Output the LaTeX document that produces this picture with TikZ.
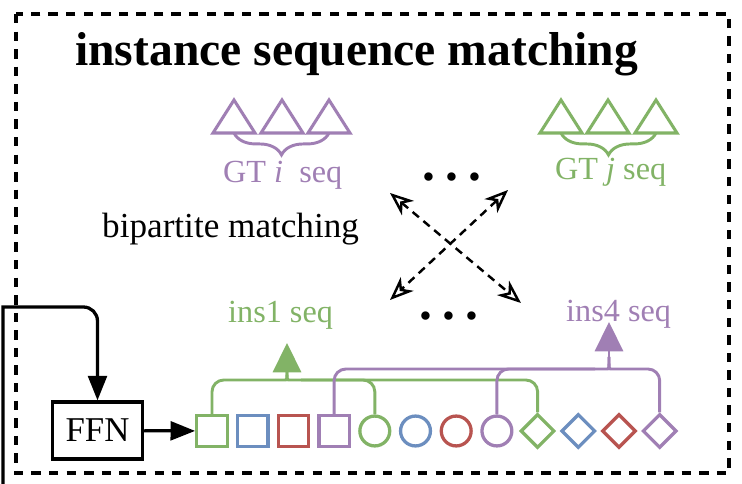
\documentclass[tikz,border=0pt]{standalone}
\usepackage{fontspec}
\setmainfont{Liberation Serif}
\usepackage{tikz}
\usetikzlibrary{arrows.meta,decorations.pathreplacing,shapes.geometric,calc}
\definecolor{insgreen}{HTML}{82B366}
\definecolor{insblue}{HTML}{6C8EBF}
\definecolor{insred}{HTML}{B85450}
\definecolor{inspurple}{HTML}{A07FB4}

\begin{document}
\begin{tikzpicture}[x=0.03cm,y=-0.03cm,
    tok/.style={draw=#1,line width=2.8pt,inner sep=0pt},
    sq/.style={tok=#1,rectangle,minimum size=26pt},
    ci/.style={tok=#1,circle,minimum size=25.5pt},
    dm/.style={tok=#1,diamond,minimum width=29pt,minimum height=29pt},
    link/.style={draw=#1,line width=2.5pt},
    uparrow/.style={link=#1,-{Triangle[length=25pt,width=24pt]}},
    tri/.style={draw=#1,line width=2.6pt,line join=miter},
    brc/.style={draw=#1,line width=2.5pt,decorate,decoration={brace,mirror,amplitude=18.7pt}},
    txt/.style={inner sep=0pt,anchor=base west,font=\fontsize{30}{36}\selectfont},
    seqlbl/.style={txt,text=#1,font=\fontsize{27.5}{33}\selectfont},
    dots/.style={inner sep=0pt,anchor=base,font=\fontsize{44}{48}\selectfont\bfseries},
    flow/.style={line width=2.8pt,-{Triangle[length=21pt,width=16pt]}},
    match/.style={line width=2.1pt,dash pattern=on 7pt off 5pt,
      {Stealth[open,length=20pt,width=16pt,inset=6pt]}-{Stealth[open,length=20pt,width=16pt,inset=6pt]}},
    frame/.style={line width=2.8pt,dash pattern=on 8pt off 7pt}]
  \useasboundingbox (0,0) rectangle (742,484);
  \draw[frame] (16,14) rectangle (729,473);
  \node[txt,font=\fontsize{40.6}{48}\selectfont\bfseries] (title) at (75,66) {instance sequence matching};

  % ground truth sequences
  \foreach \cx in {234,282,329}
    \draw[tri=inspurple] ({\cx-21},133) -- (\cx,100) -- ({\cx+21},133) -- cycle;
  \foreach \cx in {561,608,656}
    \draw[tri=insgreen] ({\cx-21},133) -- (\cx,100) -- ({\cx+21},133) -- cycle;
  \draw[brc=inspurple] (234,133) -- (329,133);
  \draw[brc=insgreen] (561,133) -- (656,133);
  \node[seqlbl=inspurple] (gti) at (223,183) {GT \textit{i}~ seq};
  \node[seqlbl=insgreen] (gtj) at (555,180) {GT \textit{j} seq};
  \node[dots] (dtop) at (452,181) {.\kern9pt.\kern9pt.};
  \node[txt] (bip) at (102,238) {bipartite matching};

  % matching
  \coordinate (m1) at (390,193);
  \coordinate (m2) at (521,303);
  \coordinate (m3) at (508,190);
  \coordinate (m4) at (390,300);
  \draw[match] (m1) -- (m2);
  \draw[match] (m3) -- (m4);
  \node[dots] (dbot) at (449,320) {.\kern9pt.\kern9pt.};

  % queries
  \node[draw,line width=2.8pt,minimum width=77pt,minimum height=48.5pt,
    font=\fontsize{29.7}{36}\selectfont] (ffn) at (97.5,430.5) {FFN};
  \foreach \col [count=\k] in {insgreen,insblue,insred,inspurple}{
    \node[sq=\col] (sq\k) at ({212+40.7*(\k-1)},431) {};
    \node[ci=\col] (ci\k) at ({212+40.7*(\k+3)},431) {};
    \node[dm=\col] (dm\k) at ({212+40.7*(\k+7)},431) {};
  }
  \coordinate (feat) at (3,484);
  \draw[flow] (feat) -- (3,307) [rounded corners=12pt] -- (97.5,307) -- (ffn.north);
  \draw[flow] (ffn) -- (sq1);

  % instance 1
  \coordinate (gmid) at (287,380);
  \coordinate (gtip) at (287,343);
  \draw[link=insgreen] (sq1.north) [rounded corners=10pt] |- ($(gmid)+(-14,0)$)
    [sharp corners] .. controls (gmid) .. ($(gmid)+(0,-12)$);
  \draw[link=insgreen] (ci1.north) [rounded corners=10pt] |- ($(gmid)+(14,0)$)
    [sharp corners] .. controls (gmid) .. ($(gmid)+(0,-12)$);
  \draw[link=insgreen] (dm1.north) [rounded corners=10pt] |- ($(gmid)+(14,0)$);
  \draw[uparrow=insgreen] ($(gmid)+(0,-12)$) -- (gtip);
  \node[seqlbl=insgreen] (ins1) at (228,323) {ins1 seq};

  % instance 4
  \coordinate (pmid) at (609,369);
  \coordinate (ptip) at (609,322);
  \draw[link=inspurple] (sq4.north) [rounded corners=10pt] |- ($(pmid)+(-14,0)$)
    [sharp corners] .. controls (pmid) .. ($(pmid)+(0,-12)$);
  \draw[link=inspurple] (ci4.north) [rounded corners=10pt] |- ($(pmid)+(-14,0)$);
  \draw[link=inspurple] (dm4.north) [rounded corners=10pt] |- ($(pmid)+(14,0)$)
    [sharp corners] .. controls (pmid) .. ($(pmid)+(0,-12)$);
  \draw[uparrow=inspurple] ($(pmid)+(0,-12)$) -- (ptip);
  \node[seqlbl=inspurple] (ins4) at (566,322) {ins4 seq};
\end{tikzpicture}
\end{document}
